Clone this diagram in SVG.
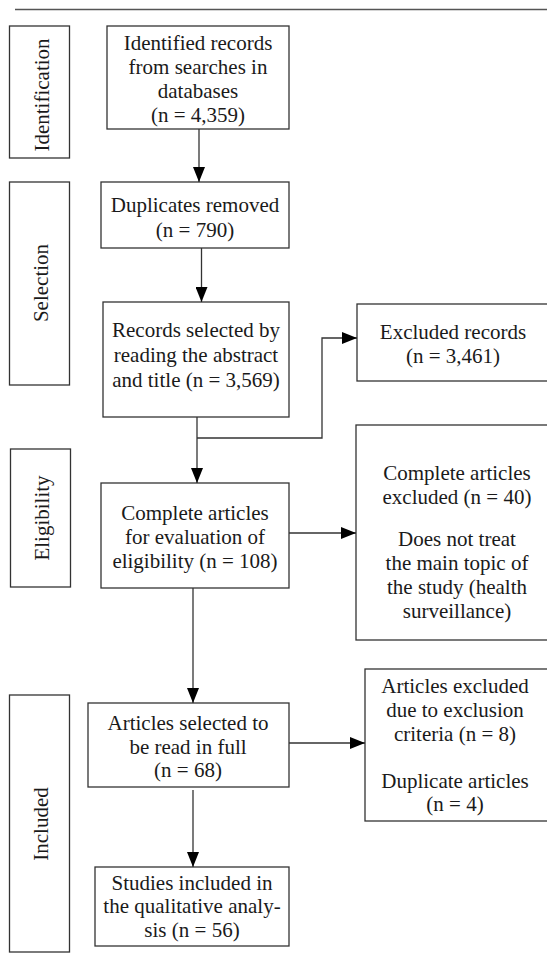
<svg xmlns="http://www.w3.org/2000/svg" width="547" height="962" viewBox="0 0 547 962">
<style>
.box{fill:#fff;stroke:#333;stroke-width:1.3}
.t{font-family:"Liberation Serif","Times New Roman",serif;font-size:21px;fill:#1a1a1a;text-anchor:middle}
.c{fill:none;stroke:#333;stroke-width:1.3}
</style>
<defs>
<marker id="ah" viewBox="0 0 15 12" refX="15" refY="6" markerWidth="15" markerHeight="12" orient="auto" markerUnits="userSpaceOnUse">
<path d="M0,0 L15,6 L0,12 z" fill="#000"/>
</marker>
</defs>
<line x1="15" y1="9.5" x2="547" y2="9.5" stroke="#555" stroke-width="1.3"/>

<g id="stage-identification">
<rect class="box" x="9.5" y="26" width="60" height="132"/>
<text class="t" transform="translate(49,95) rotate(-90)">Identification</text>
</g>
<g id="stage-selection">
<rect class="box" x="9.5" y="182" width="60" height="203"/>
<text class="t" transform="translate(48,283) rotate(-90)">Selection</text>
</g>
<g id="stage-eligibility">
<rect class="box" x="10.5" y="449" width="60" height="138"/>
<text class="t" transform="translate(49,518) rotate(-90)">Eligibility</text>
</g>
<g id="stage-included">
<rect class="box" x="9.5" y="695" width="60" height="257"/>
<text class="t" transform="translate(48,824) rotate(-90)">Included</text>
</g>

<g id="identified">
<rect class="box" x="107" y="26" width="182" height="103"/>
<text class="t" x="198" y="50">Identified records</text>
<text class="t" x="198" y="74">from searches in</text>
<text class="t" x="198" y="98">databases</text>
<text class="t" x="198" y="122">(n = 4,359)</text>
</g>
<g id="duplicates">
<rect class="box" x="101" y="182" width="188" height="66"/>
<text class="t" x="195" y="212">Duplicates removed</text>
<text class="t" x="195" y="237">(n = 790)</text>
</g>
<g id="records">
<rect class="box" x="103" y="302" width="186" height="115"/>
<text class="t" x="196" y="337">Records selected by</text>
<text class="t" x="196" y="362">reading the abstract</text>
<text class="t" x="196" y="387">and title (n = 3,569)</text>
</g>
<g id="excluded-records">
<rect class="box" x="357" y="304" width="195" height="77"/>
<text class="t" x="453" y="339">Excluded records</text>
<text class="t" x="453" y="363">(n = 3,461)</text>
</g>
<g id="complete">
<rect class="box" x="101" y="483" width="188" height="105"/>
<text class="t" x="195" y="520">Complete articles</text>
<text class="t" x="195" y="544">for evaluation of</text>
<text class="t" x="195" y="568">eligibility (n = 108)</text>
</g>
<g id="complete-excluded">
<rect class="box" x="356" y="425" width="200" height="215"/>
<text class="t" x="457" y="480">Complete articles</text>
<text class="t" x="457" y="504">excluded (n = 40)</text>
<text class="t" x="457" y="546">Does not treat</text>
<text class="t" x="457" y="570">the main topic of</text>
<text class="t" x="457" y="594">the study (health</text>
<text class="t" x="457" y="618">surveillance)</text>
</g>
<g id="articles-selected">
<rect class="box" x="88" y="703" width="201" height="84"/>
<text class="t" x="188" y="730">Articles selected to</text>
<text class="t" x="188" y="754">be read in full</text>
<text class="t" x="188" y="777">(n = 68)</text>
</g>
<g id="articles-excluded">
<rect class="box" x="365" y="669" width="190" height="152"/>
<text class="t" x="455" y="693">Articles excluded</text>
<text class="t" x="455" y="717">due to exclusion</text>
<text class="t" x="455" y="741">criteria (n = 8)</text>
<text class="t" x="455" y="788">Duplicate articles</text>
<text class="t" x="455" y="811">(n = 4)</text>
</g>
<g id="studies">
<rect class="box" x="95" y="867" width="194" height="79"/>
<text class="t" x="192" y="890">Studies included in</text>
<text class="t" x="192" y="913">the qualitative analy-</text>
<text class="t" x="192" y="937">sis (n = 56)</text>
</g>

<g id="connectors">
<path class="c" d="M199,129 V182" marker-end="url(#ah)"/>
<path class="c" d="M201.5,248 V302" marker-end="url(#ah)"/>
<path class="c" d="M197,417 V483" marker-end="url(#ah)"/>
<path class="c" d="M197,438 H322 V338 H357" marker-end="url(#ah)"/>
<path class="c" d="M289,533 H356" marker-end="url(#ah)"/>
<path class="c" d="M193,588 V703" marker-end="url(#ah)"/>
<path class="c" d="M289,743 H365" marker-end="url(#ah)"/>
<path class="c" d="M193,790 V867" marker-end="url(#ah)"/>
</g>
</svg>
